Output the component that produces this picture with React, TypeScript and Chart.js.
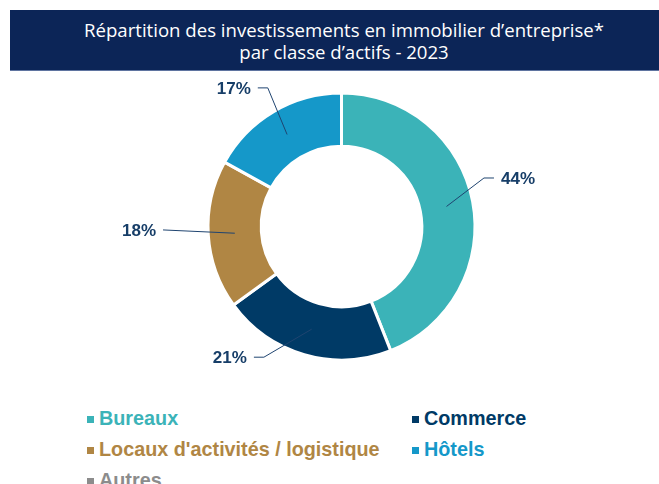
import React, { useEffect, useRef } from "react";
import { Chart, registerables } from "chart.js";

Chart.register(...registerables);

const TITLE_LINES = [
  "Répartition des investissements en immobilier d’entreprise*",
  "par classe d’actifs - 2023",
];
const CATEGORIES = [
  "Bureaux",
  "Commerce",
  "Locaux d'activités / logistique",
  "Hôtels",
  "Autres",
];
const SHARES = [44, 21, 18, 17, 0];
const COLORS = ["#3bb3b8", "#003a66", "#b08644", "#1598c9", "#8c8c8c"];

const leaderPlugin = {
  id: "leaders",
  afterDatasetsDraw(chart: any, _args: any, opts: any) {
    const meta = chart.getDatasetMeta(0);
    const ctx = chart.ctx as CanvasRenderingContext2D;
    const data = chart.data.datasets[0].data as number[];
    ctx.save();
    meta.data.forEach((arc: any, i: number) => {
      const v = data[i];
      if (!v) return;
      const lay = opts.layout[i];
      const p = arc.getProps(["x", "y", "startAngle", "endAngle", "innerRadius", "outerRadius"], true);
      const mid = (p.startAngle + p.endAngle) / 2;
      const rMid = (p.innerRadius + p.outerRadius) / 2;
      const ax = p.x + Math.cos(mid) * rMid;
      const ay = p.y + Math.sin(mid) * rMid;
      const ea = mid + (lay.dAngle * Math.PI) / 180;
      const ex = p.x + Math.cos(ea) * lay.r;
      const ey = p.y + Math.sin(ea) * lay.r;
      const side = Math.cos(ea) >= 0 ? 1 : -1;
      const tx = ex + side * lay.tail;
      ctx.strokeStyle = opts.lineColor;
      ctx.lineWidth = 1;
      ctx.beginPath();
      ctx.moveTo(ax, ay);
      ctx.lineTo(ex, ey);
      ctx.lineTo(tx, ey);
      ctx.stroke();
      ctx.fillStyle = opts.textColor;
      ctx.font = opts.font;
      ctx.textAlign = side > 0 ? "left" : "right";
      ctx.textBaseline = "middle";
      ctx.fillText(v + "%", tx + side * opts.gap, ey + 1);
    });
    ctx.restore();
  },
};

function DonutChart() {
  const ref = useRef<HTMLCanvasElement | null>(null);
  useEffect(() => {
    if (!ref.current) return;
    const chart = new Chart(ref.current, {
      type: "doughnut",
      data: {
        labels: CATEGORIES,
        datasets: [
          {
            data: SHARES,
            backgroundColor: COLORS,
            borderColor: "#ffffff",
            borderWidth: 3,
            hoverOffset: 0,
          },
        ],
      },
      options: {
        animation: false,
        responsive: false,
        maintainAspectRatio: false,
        radius: 133.5,
        cutout: 78.5,
        layout: { padding: { left: 16, right: 0, top: 14.5, bottom: 21.5 } },
        plugins: {
          legend: { display: false },
          tooltip: { enabled: false },
          leaders: {
            lineColor: "#1f4470",
            textColor: "#173e68",
            font: "bold 17px 'Liberation Sans', Arial, sans-serif",
            gap: 7,
            layout: [
              { dAngle: -8, r: 150.5, tail: 10 },
              { dAngle: 14.5, r: 152, tail: 10 },
              { dAngle: 2.5, r: 178.5, tail: 0 },
              { dAngle: 2.6, r: 157, tail: 10 },
              { dAngle: 0, r: 150, tail: 10 },
            ],
          },
        } as any,
      },
      plugins: [leaderPlugin as any],
    });
    return () => chart.destroy();
  }, []);
  return (
    <canvas
      ref={ref}
      width={651}
      height={300}
      style={{ position: "absolute", left: 8, top: 80, width: 651, height: 300 }}
    />
  );
}

export default function App() {
  return (
    <div
      style={{
        position: "fixed",
        left: 0,
        top: 0,
        width: 659,
        height: 484,
        overflow: "hidden",
        background: "#ffffff",
      }}
    >
      <div
        style={{
          position: "absolute",
          left: 10,
          top: 10,
          width: 668,
          height: 61,
          background: "#0c2557",
          borderBottom: "1px solid #5f74a0",
          color: "#ffffff",
          fontFamily: "'Open Sans', sans-serif",
          fontSize: 18.6,
          lineHeight: "22px",
          textAlign: "center",
          paddingTop: 9,
          boxSizing: "border-box",
        }}
      >
        {TITLE_LINES.map((t) => (
          <div key={t}>{t}</div>
        ))}
      </div>
      <DonutChart />
      <div
        style={{
          position: "absolute",
          left: 87,
          top: 402.5,
          display: "grid",
          gridTemplateColumns: "325px auto",
          gridAutoRows: "31px",
          fontFamily: "'Liberation Sans', Arial, sans-serif",
          fontWeight: "bold",
          fontSize: 19.8,
        }}
      >
        {CATEGORIES.map((c, i) => (
          <div key={c} style={{ display: "flex", alignItems: "center", color: COLORS[i], whiteSpace: "nowrap" }}>
            <span
              style={{
                display: "inline-block",
                width: 7,
                height: 7,
                background: COLORS[i],
                marginRight: 5,
                marginTop: 2,
              }}
            />
            <span>{c}</span>
          </div>
        ))}
      </div>
    </div>
  );
}
